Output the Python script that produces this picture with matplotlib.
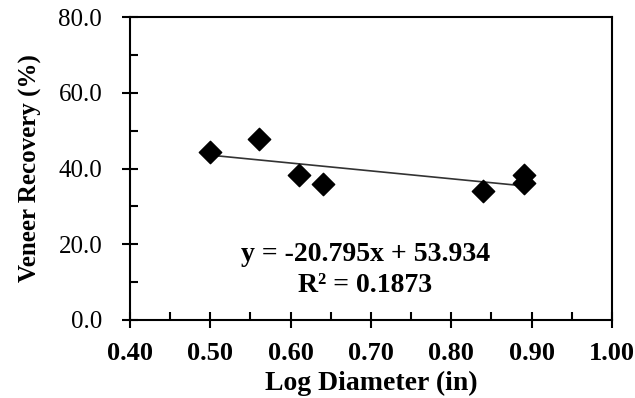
import matplotlib.pyplot as plt
import numpy as np

log_diameter = [0.50, 0.56, 0.61, 0.64, 0.84, 0.89, 0.89]
recovery = [44.4, 47.7, 38.3, 35.9, 34.1, 38.3, 36.1]
slope = -20.795
intercept = 53.934
r_squared = 0.1873

plt.rcParams['font.family'] = ['Liberation Serif', 'DejaVu Serif']

fig = plt.figure(figsize=(6.35, 3.98), dpi=100)
ax = fig.add_axes([0.2047, 0.196, 0.759, 0.761])

ax.scatter(log_diameter, recovery, marker='D', s=130, color='black', zorder=3)

# trend line over the data range
xt = np.array([min(log_diameter), max(log_diameter)])
ax.plot(xt, slope * xt + intercept, color='#333333', lw=1.2, zorder=2)

ax.text(0.693, 17.2, 'y = %.3fx + %.3f' % (slope, intercept), ha='center', va='center',
        fontsize=20, fontweight='bold')
ax.text(0.693, 9.2, 'R² = %.4f' % r_squared, ha='center', va='center',
        fontsize=20, fontweight='bold')

ax.set_xlim(0.40, 1.00)
ax.set_ylim(0, 80)
ax.set_xticks(np.arange(0.40, 1.001, 0.10))
ax.set_xticks(np.arange(0.45, 1.0, 0.10), minor=True)
ax.set_yticks(np.arange(0, 80.1, 20))
ax.set_yticks(np.arange(10, 80, 20), minor=True)
ax.set_xticklabels(['%.2f' % v for v in np.arange(0.40, 1.001, 0.10)],
                   fontsize=19, fontweight='bold')
ax.set_yticklabels(['%.1f' % v for v in np.arange(0, 80.1, 20)], fontsize=18)

ax.tick_params(which='major', direction='inout', length=12, width=1.5)
ax.tick_params(axis='x', which='major', pad=10)
ax.tick_params(axis='y', which='major', pad=14)
ax.tick_params(which='minor', direction='in', length=6, width=1.5)
for s in ax.spines.values():
    s.set_linewidth(1.5)

ax.set_xlabel('Log Diameter (in)', fontsize=20, fontweight='bold', labelpad=4)
ax.set_ylabel('Veneer Recovery (%)', fontsize=18, fontweight='bold', labelpad=12)

fig.savefig('out.png', dpi=100)
